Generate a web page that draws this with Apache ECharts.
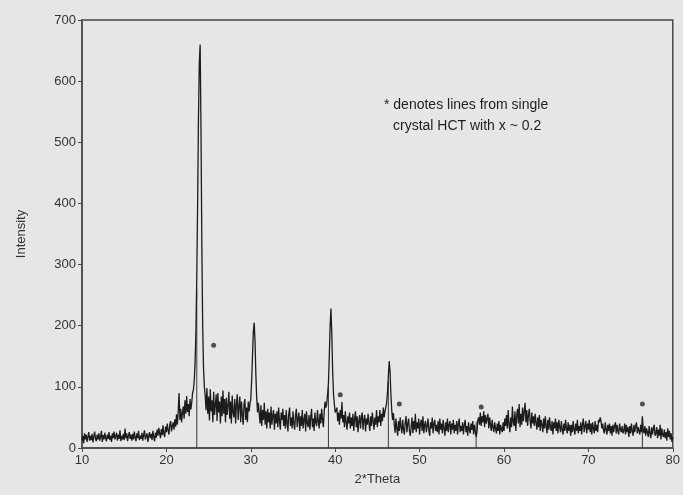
<!DOCTYPE html>
<html>
<head>
<meta charset="utf-8">
<script src="https://cdn.jsdelivr.net/npm/echarts@6/dist/echarts.min.js"></script>
<style>
  html, body { margin: 0; padding: 0; background: #e6e6e6; }
  #chart { width: 683px; height: 495px; }
</style>
</head>
<body>
<div id="chart"></div>
<script>
// Powder diffraction scan, sampled every 0.1 degree from 10 to 80 (2*Theta)
const scanStart = 10;
const scanStep = 0.1;
const intensity = [
  12,20,8,24,14,22,10,18,26,12,
  20,13,23,9,19,27,15,11,22,14,
  24,12,19,28,10,21,14,25,16,11,
  22,15,26,13,20,10,24,16,27,14,
  19,25,12,22,15,29,11,20,14,23,
  13,32,16,24,11,20,26,15,22,12,
  23,14,27,17,11,24,16,28,13,20,
  15,25,12,22,29,14,20,24,10,19,
  26,16,23,13,28,18,11,25,17,30,
  20,33,24,16,31,21,37,23,18,35,
  26,40,29,22,38,44,27,36,42,30,
  47,35,55,38,60,90,46,64,42,57,
  68,48,78,56,85,59,72,52,80,63,
  74,90,95,110,140,190,280,400,540,630,
  660,520,330,200,130,100,85,62,98,56,
  84,45,96,60,78,42,92,54,70,88,
  44,90,58,76,40,84,52,94,56,80,
  42,82,54,70,92,48,76,40,86,58,
  50,80,40,72,88,46,68,84,42,76,
  54,38,72,80,46,66,42,76,60,72,
  80,110,150,190,205,175,120,82,58,74,
  56,40,70,36,62,46,74,38,60,32,
  64,42,58,32,68,38,54,62,30,56,
  40,60,34,66,44,30,58,46,64,36,
  54,32,62,42,27,56,66,36,50,32,
  60,40,30,54,64,34,48,58,28,52,
  36,62,32,46,56,27,60,40,34,54,
  30,50,64,34,48,28,58,42,36,62,
  44,32,56,40,64,46,34,60,76,66,
  72,88,105,150,200,228,185,125,88,72,
  58,62,66,44,58,38,62,48,75,42,
  54,34,60,42,30,52,40,58,32,50,
  36,56,28,48,60,34,52,26,44,54,
  32,50,58,30,46,54,27,48,38,56,
  40,28,52,36,58,44,30,50,38,62,
  34,52,42,62,36,56,44,66,50,60,
  62,74,92,118,142,125,88,62,46,57,
  38,25,48,32,20,44,28,50,34,24,
  46,30,22,42,52,26,40,48,28,20,
  34,50,24,44,30,56,26,42,32,48,
  22,40,46,28,52,24,38,44,26,36,
  48,28,20,42,32,50,24,40,46,28,
  38,26,44,22,48,30,40,24,46,32,
  20,42,28,48,26,38,44,22,40,30,
  46,24,38,28,44,22,40,48,26,36,
  28,42,22,38,46,26,36,20,42,30,
  24,40,30,44,22,38,28,18,26,46,
  50,38,58,36,52,42,60,34,54,40,
  48,56,32,50,38,28,46,34,26,42,
  32,24,40,28,44,22,38,30,26,42,
  28,48,36,54,32,62,38,26,50,34,
  68,42,36,60,28,52,64,40,72,34,
  56,38,66,44,60,74,42,62,36,54,
  64,44,32,58,40,52,36,56,42,30,
  50,34,54,28,46,38,26,48,32,52,
  36,24,46,30,50,34,28,44,22,42,
  32,48,28,42,24,46,34,26,44,30,
  22,40,28,46,32,24,42,28,38,20,
  38,26,44,30,22,40,28,46,24,36,
  28,42,22,38,48,26,36,44,24,40,
  30,46,26,40,22,42,32,24,44,28,
  38,26,46,42,50,44,32,40,28,24,
  42,30,22,38,28,40,24,36,20,38,
  26,36,42,24,38,28,22,40,30,26,
  36,24,28,40,22,38,26,34,18,36,
  24,40,28,20,38,26,36,42,24,34,
  28,22,38,26,52,30,24,36,20,32,
  26,18,36,24,16,34,22,32,38,20,
  24,34,16,30,20,38,14,32,22,18,
  30,16,26,12,32,18,28,14,24,10,
  18
];

// Reference line positions (stick pattern) and their drawn heights
const stickTheta = [23.6, 39.2, 46.3, 56.7, 76.4];
const stickHeight = [260, 100, 110, 43, 50];

// Asterisk markers for lines from single crystal HCT
const markTheta = [25.6, 40.6, 47.6, 57.3, 76.4];
const markIntensity = [168, 87, 72, 67, 72];

const xTicks = [10, 20, 30, 40, 50, 60, 70, 80];
const yTicks = [0, 100, 200, 300, 400, 500, 600, 700];

const scan = intensity.map((v, i) => [+(scanStart + i * scanStep).toFixed(1), v]);
const sticks = stickTheta.map((t, i) => [t, stickHeight[i]]);
const marks = markTheta.map((t, i) => [t, markIntensity[i]]);

const ink = '#1c1c1c';
const axisColor = '#4a4a4a';
const labelFont = { color: '#333', fontSize: 13, fontFamily: 'Liberation Sans, Arial, sans-serif' };

const chart = echarts.init(document.getElementById('chart'), null, { renderer: 'canvas' });
chart.setOption({
  backgroundColor: '#e6e6e6',
  animation: false,
  grid: {
    left: 82, right: 10, top: 20, bottom: 47,
    show: true, borderColor: axisColor, borderWidth: 1.5, backgroundColor: 'transparent'
  },
  xAxis: {
    type: 'value', min: xTicks[0], max: xTicks[xTicks.length - 1], interval: 10,
    name: '2*Theta', nameLocation: 'middle', nameGap: 25,
    nameTextStyle: labelFont,
    axisLine: { lineStyle: { color: axisColor, width: 1.5 } },
    axisTick: { show: true, length: 4, lineStyle: { color: axisColor } },
    axisLabel: Object.assign({ margin: 6 }, labelFont),
    splitLine: { show: false }
  },
  yAxis: {
    type: 'value', min: yTicks[0], max: yTicks[yTicks.length - 1], interval: 100,
    name: 'Intensity', nameLocation: 'middle', nameGap: 54, nameRotate: 90,
    nameTextStyle: labelFont,
    axisLine: { show: true, lineStyle: { color: axisColor, width: 1.5 } },
    axisTick: { show: true, length: 4, lineStyle: { color: axisColor } },
    axisLabel: Object.assign({ margin: 6 }, labelFont),
    splitLine: { show: false }
  },
  series: [
    {
      type: 'bar', data: sticks, barWidth: 1, barGap: '-100%',
      itemStyle: { color: '#3a3a3a' }, z: 1, silent: true
    },
    {
      type: 'line', data: scan, showSymbol: false, symbol: 'none',
      lineStyle: { color: ink, width: 1.3 }, z: 2, silent: true
    },
    {
      type: 'scatter', data: marks, symbol: 'circle', symbolSize: 5,
      itemStyle: { color: '#2a2a2a' }, z: 3, silent: true
    }
  ],
  graphic: [
    {
      type: 'text', left: 384, top: 98,
      style: { text: '* denotes lines from single', fill: '#1e1e1e', font: '14px Liberation Sans, Arial, sans-serif' }
    },
    {
      type: 'text', left: 393, top: 119,
      style: { text: 'crystal HCT with x ~ 0.2', fill: '#1e1e1e', font: '14px Liberation Sans, Arial, sans-serif' }
    }
  ]
});
</script>
</body>
</html>
